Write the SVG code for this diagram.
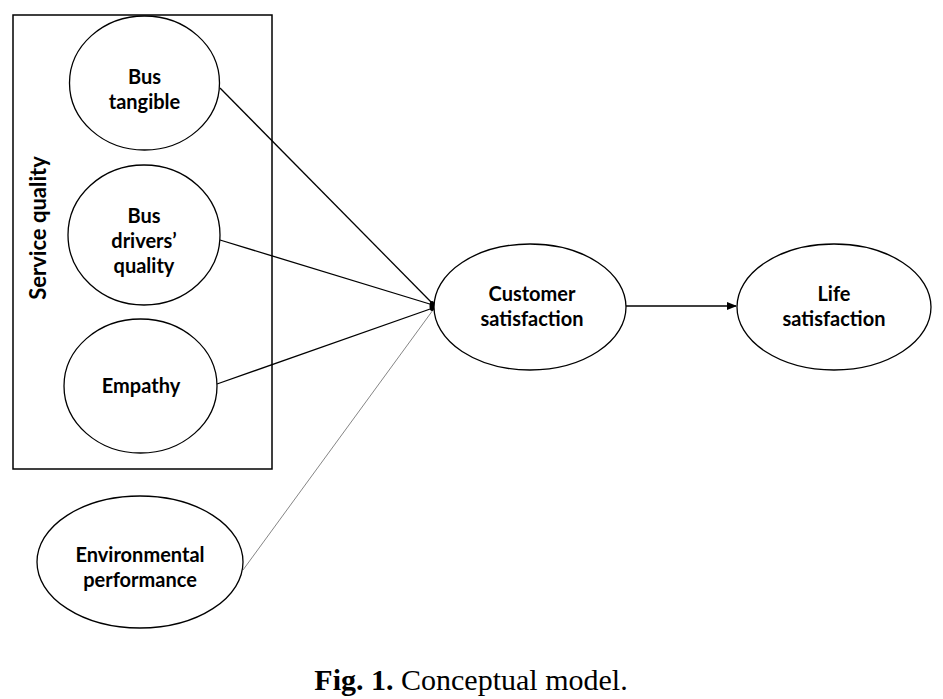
<svg xmlns="http://www.w3.org/2000/svg" width="943" height="699" viewBox="0 0 943 699">
<style>
.n{fill:#fff;stroke:#000;stroke-width:1.3}
.t{font-family:Lato,"Open Sans","Liberation Sans",sans-serif;font-weight:bold;font-size:20px;text-anchor:middle;fill:#000}
.c{stroke:#000;stroke-width:1.3;fill:none}
.cap{font-family:"Liberation Serif","DejaVu Serif",serif;font-size:30px;fill:#000}
</style>
<defs>
<marker id="ah" markerWidth="10" markerHeight="8" refX="9" refY="4" orient="auto" markerUnits="userSpaceOnUse">
<path d="M0,0 L10,4 L0,8 Z" fill="#000"/>
</marker>
</defs>
<rect x="0" y="0" width="943" height="699" fill="#fff"/>
<g id="service-quality">
<rect x="13" y="15" width="259" height="454" fill="none" stroke="#000" stroke-width="1.5"/>
<text class="t" transform="translate(46,228) rotate(-90)" style="font-size:22px">Service quality</text>
</g>
<g id="connectors">
<line class="c" x1="220" y1="88" x2="433" y2="304"/>
<line class="c" x1="220" y1="240" x2="433" y2="305"/>
<line class="c" x1="217" y1="384" x2="433" y2="308"/>
<line class="c" x1="243" y1="570" x2="433" y2="310" style="stroke:#666;stroke-width:0.8"/>
<ellipse cx="432" cy="306" rx="2.5" ry="5" fill="#000"/>
<line class="c" x1="626" y1="306" x2="736" y2="306" marker-end="url(#ah)"/>
</g>
<g id="bus-tangible">
<ellipse class="n" cx="144.5" cy="83" rx="75" ry="67"/>
<text class="t" x="144.5" y="84">Bus</text>
<text class="t" x="144.5" y="109">tangible</text>
</g>
<g id="bus-drivers-quality">
<ellipse class="n" cx="144" cy="235" rx="76" ry="70"/>
<text class="t" x="144" y="223">Bus</text>
<text class="t" x="144" y="248">drivers’</text>
<text class="t" x="144" y="273">quality</text>
</g>
<g id="empathy">
<ellipse class="n" cx="140.5" cy="386" rx="76.5" ry="67"/>
<text class="t" x="141" y="393">Empathy</text>
</g>
<g id="environmental-performance">
<ellipse class="n" cx="140" cy="562" rx="103" ry="66"/>
<text class="t" x="140" y="562">Environmental</text>
<text class="t" x="140" y="587">performance</text>
</g>
<g id="customer-satisfaction">
<ellipse class="n" cx="530" cy="307" rx="96" ry="63"/>
<text class="t" x="532" y="301">Customer</text>
<text class="t" x="532" y="326">satisfaction</text>
</g>
<g id="life-satisfaction">
<ellipse class="n" cx="834" cy="307" rx="97" ry="63"/>
<text class="t" x="834" y="301">Life</text>
<text class="t" x="834" y="326">satisfaction</text>
</g>
<text class="cap" x="471" y="690" text-anchor="middle"><tspan font-weight="bold">Fig. 1.</tspan> Conceptual model.</text>
</svg>
